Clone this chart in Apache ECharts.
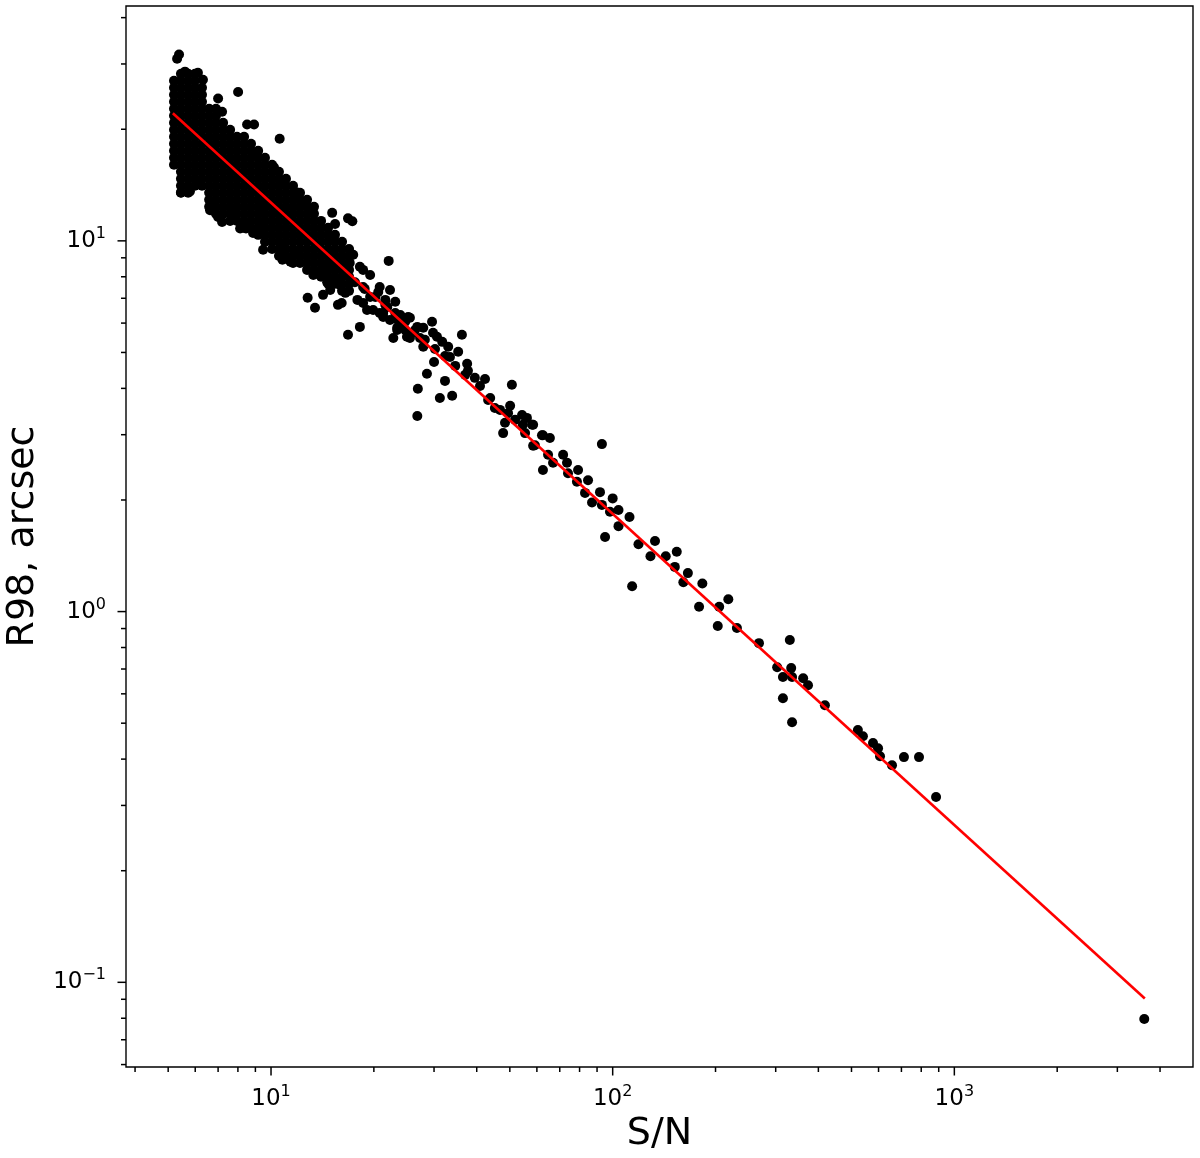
<!DOCTYPE html>
<html>
<head>
<meta charset="utf-8">
<script src="https://cdn.jsdelivr.net/npm/echarts@6.0.0/dist/echarts.min.js"></script>
<style>
  html, body { margin: 0; padding: 0; background: #fff; }
  #chart { width: 1200px; height: 1158px; }
</style>
</head>
<body>
<div id="chart"></div>
<script>
// ---------------- data ----------------
// axis limits (S/N and R98, arcsec)
const xLimits = [3.763, 4995];
const yLimits = [0.0591, 43.0];

// tick values
const xMajorTicks = [10, 100, 1000];
const xMinorTicks = [4, 5, 6, 7, 8, 9, 20, 30, 40, 50, 60, 70, 80, 90,
  200, 300, 400, 500, 600, 700, 800, 900, 2000, 3000, 4000];
const yMajorTicks = [0.1, 1, 10];
const yMinorTicks = [0.06, 0.07, 0.08, 0.09, 0.2, 0.3, 0.4, 0.5, 0.6, 0.7, 0.8, 0.9,
  2, 3, 4, 5, 6, 7, 8, 9, 20, 30, 40];

// dense cloud at low S/N: each entry = S/N value and the R98 values seen at it
const cloudColumns = [
  [5.20, [27.03, 25.88, 24.78, 23.72, 22.71, 21.75, 20.82, 19.93, 19.09, 18.27, 17.50, 16.75, 16.04]],
  [5.45, [28.23, 27.03, 25.88, 24.78, 23.72, 22.71, 21.75, 20.82, 19.93, 19.09, 18.27, 17.50, 16.75, 16.04, 15.36, 14.70, 14.08, 13.48]],
  [5.72, [28.23, 27.03, 25.88, 24.78, 23.72, 22.71, 21.75, 20.82, 19.93, 19.09, 18.27, 17.50, 16.75, 16.04, 15.36, 14.70, 14.08, 13.48]],
  [5.99, [28.23, 27.03, 25.88, 24.78, 23.72, 22.71, 21.75, 20.82, 19.93, 19.09, 18.27, 17.50, 16.75, 16.04, 15.36, 14.70, 14.08]],
  [6.28, [25.88, 24.78, 23.72, 22.71, 21.75, 20.82, 19.93, 19.09, 18.27, 17.50, 16.75, 16.04, 15.36, 14.70, 14.08]],
  [6.59, [22.71, 21.75, 20.82, 19.93, 19.09, 18.27, 17.50, 16.75, 16.04, 15.36, 14.70, 14.08, 13.48, 12.90, 12.35]],
  [6.90, [22.71, 21.75, 20.82, 19.93, 19.09, 18.27, 17.50, 16.75, 16.04, 15.36, 14.70, 14.08, 13.48, 12.90, 12.35, 11.83]],
  [7.24, [20.82, 19.93, 19.09, 18.27, 17.50, 16.75, 16.04, 15.36, 14.70, 14.08, 13.48, 12.90, 12.35, 11.83]],
  [7.59, [19.93, 19.09, 18.27, 17.50, 16.75, 16.04, 15.36, 14.70, 14.08, 13.48, 12.90, 12.35, 11.83, 11.32]],
  [7.95, [19.09, 18.27, 17.50, 16.75, 16.04, 15.36, 14.70, 14.08, 13.48, 12.90, 12.35, 11.83, 11.32]],
  [8.34, [19.09, 18.27, 17.50, 16.75, 16.04, 15.36, 14.70, 14.08, 13.48, 12.90, 12.35, 11.83, 11.32, 10.84]],
  [8.74, [18.27, 17.50, 16.75, 16.04, 15.36, 14.70, 14.08, 13.48, 12.90, 12.35, 11.83, 11.32, 10.84]],
  [9.17, [17.50, 16.75, 16.04, 15.36, 14.70, 14.08, 13.48, 12.90, 12.35, 11.83, 11.32, 10.84, 10.38]],
  [9.60, [16.75, 16.04, 15.36, 14.70, 14.08, 13.48, 12.90, 12.35, 11.83, 11.32, 10.84, 10.38, 9.94]],
  [10.07, [16.04, 15.36, 14.70, 14.08, 13.48, 12.90, 12.35, 11.83, 11.32, 10.84, 10.38, 9.94, 9.51]],
  [10.55, [15.36, 14.70, 14.08, 13.48, 12.90, 12.35, 11.83, 11.32, 10.84, 10.38, 9.94, 9.51, 9.11]],
  [11.06, [14.70, 14.08, 13.48, 12.90, 12.35, 11.83, 11.32, 10.84, 10.38, 9.94, 9.51, 9.11]],
  [11.60, [14.08, 13.48, 12.90, 12.35, 11.83, 11.32, 10.84, 10.38, 9.94, 9.51, 9.11, 8.72]],
  [12.16, [13.48, 12.90, 12.35, 11.83, 11.32, 10.84, 10.38, 9.94, 9.51, 9.11, 8.72]],
  [12.75, [12.90, 12.35, 11.83, 11.32, 10.84, 10.38, 9.94, 9.51, 9.11, 8.72, 8.35]],
  [13.36, [12.35, 11.83, 11.32, 10.84, 10.38, 9.94, 9.51, 9.11, 8.72, 8.35]],
  [14.01, [11.32, 10.84, 10.38, 9.94, 9.51, 9.11, 8.72, 8.35, 8.00]],
  [14.69, [10.84, 10.38, 9.94, 9.51, 9.11, 8.72, 8.35, 8.00, 7.66]],
  [15.39, [10.38, 9.94, 9.51, 9.11, 8.72, 8.35, 8.00, 7.66]],
  [16.14, [9.94, 9.51, 9.11, 8.72, 8.35, 8.00, 7.66, 7.33]],
  [16.92, [9.51, 9.11, 8.72, 8.35, 8.00, 7.66, 7.33]]
];

// edge / isolated sources around the dense cloud  [S/N, R98]
const cloudEdge = [
  [5.38, 31.8], [5.31, 31.0], [5.60, 28.6], [6.11, 28.4], [6.32, 27.2], [8.01, 25.2],
  [7.00, 24.2], [7.19, 22.3], [8.51, 20.6], [8.92, 20.6], [10.6, 18.85], [9.10, 17.4],
  [10.2, 15.8], [10.6, 14.6], [11.9, 13.5], [12.3, 12.7], [15.1, 11.9], [15.4, 11.1],
  [16.8, 11.5], [17.3, 11.3], [22.1, 8.83],
  [5.45, 13.5], [5.79, 13.6], [6.11, 14.3], [6.63, 12.1], [7.00, 11.6], [7.19, 11.25],
  [7.69, 11.9], [8.12, 10.8], [8.45, 10.8], [8.86, 10.5], [9.48, 9.46], [10.8, 9.46],
  [10.8, 8.89], [11.4, 8.78], [12.0, 9.28], [13.3, 8.09], [14.6, 8.35], [15.6, 7.70]
];

// band of sources at intermediate S/N  [S/N, R98]
const bandPoints = [
  [12.8, 7.02], [13.45, 6.60], [14.2, 7.15], [14.9, 7.37], [16.1, 6.80], [16.5, 7.24],
  [15.7, 6.72], [16.8, 5.58], [18.2, 5.86], [22.8, 5.47], [17.9, 6.93], [19.1, 6.51],
  [20.8, 6.39], [22.3, 6.12], [23.4, 5.75], [25.0, 5.51], [18.6, 7.51], [18.6, 6.80],
  [19.9, 6.51], [21.3, 6.39], [24.3, 5.86], [26.0, 5.65], [27.3, 5.47], [30.6, 5.51],
  [23.5, 6.12], [20.6, 7.28], [19.5, 7.06], [17.4, 9.17], [19.5, 8.09], [20.8, 7.51],
  [22.3, 7.37], [23.1, 6.85], [21.6, 6.93], [25.2, 6.23], [29.6, 6.05], [18.2, 8.51],
  [15.9, 7.61], [14.6, 7.73], [18.6, 8.35], [17.0, 8.72], [17.6, 7.73], [16.5, 8.09],
  [18.8, 7.42], [20.2, 7.06], [21.6, 6.72], [23.1, 6.39], [24.7, 6.05], [26.4, 5.75],
  [28.2, 5.41], [30.2, 5.11], [32.3, 4.89], [34.6, 4.60], [37.0, 4.35], [43.8, 3.77],
  [46.8, 3.50], [51.8, 3.29],
  [36.2, 5.58], [35.3, 5.02], [30.0, 4.71], [28.6, 4.38], [32.3, 4.19], [26.9, 3.99],
  [31.2, 3.77], [33.9, 3.82], [26.8, 3.37], [37.5, 4.66], [37.7, 4.46], [39.5, 4.27],
  [42.3, 4.24], [40.9, 4.06], [50.7, 4.09], [43.2, 3.72], [45.2, 3.54], [50.1, 3.59],
  [49.4, 3.43], [48.4, 3.23], [47.8, 3.03], [54.3, 3.39], [56.1, 3.33], [58.1, 3.19],
  [55.4, 3.03], [62.5, 2.99], [65.5, 2.94], [59.2, 2.81], [21.9, 6.63], [23.9, 6.31],
  [25.5, 6.20], [26.8, 5.86], [27.9, 5.83], [29.8, 5.65], [31.7, 5.34], [33.0, 5.18],
  [33.4, 4.86], [25.5, 5.47], [27.9, 5.18], [24.7, 5.75], [21.3, 6.23], [23.4, 5.83]
];

// high S/N sources  [S/N, R98]
const tailPoints = [
  [54.6, 3.19], [58.5, 3.19], [62.1, 2.99], [58.5, 2.80], [93.0, 2.83], [62.5, 2.41],
  [64.7, 2.65], [66.9, 2.52], [71.6, 2.65], [73.5, 2.52], [74.0, 2.36], [79.2, 2.41],
  [78.6, 2.24], [84.7, 2.26], [83.0, 2.09], [91.8, 2.10], [87.0, 1.97], [93.0, 1.94],
  [100, 2.02], [98.2, 1.86], [104, 1.88], [112, 1.80], [104, 1.70], [95.0, 1.59],
  [119, 1.52], [133, 1.55], [129, 1.41], [143, 1.41], [154, 1.45], [152, 1.32],
  [166, 1.27], [161, 1.20], [183, 1.19], [114, 1.17],
  [179, 1.03], [205, 1.03], [218, 1.08], [203, 0.914], [231, 0.903], [268, 0.822],
  [330, 0.838], [303, 0.708], [333, 0.704], [315, 0.666], [335, 0.666], [361, 0.661],
  [373, 0.633], [315, 0.584], [335, 0.503], [418, 0.559], [522, 0.479], [540, 0.461],
  [578, 0.442], [598, 0.428], [606, 0.407], [657, 0.385], [712, 0.405], [788, 0.405],
  [884, 0.316], [3597, 0.0796]
];

// fitted power-law line (end points)
const fitX = [5.16, 3610];
const fitY = [22.1, 0.0904];

// ---------------- chart ----------------
const FONT = 'DejaVu Sans';
const scatterData = [];
cloudColumns.forEach(([x, ys]) => ys.forEach(y => scatterData.push([x, y])));
cloudEdge.forEach(p => scatterData.push(p));
bandPoints.forEach(p => scatterData.push(p));
tailPoints.forEach(p => scatterData.push(p));
const fitData = fitX.map((x, i) => [x, fitY[i]]);

function powLabel(v) {
  const l = Math.log10(v);
  const e = Math.round(l);
  if (Math.abs(l - e) > 1e-6) return '';
  const ex = e < 0 ? '\u2212' + (-e) : String(e);
  return '{b|10}{s|' + ex + '}';
}
const labelRich = {
  b: { fontSize: 23, fontFamily: FONT, color: '#000', lineHeight: 30 },
  s: { fontSize: 16, fontFamily: FONT, color: '#000', lineHeight: 16, verticalAlign: 'top' }
};

function tickSeries(data, horizontal, len) {
  return {
    type: 'scatter',
    silent: true,
    clip: false,
    symbol: 'rect',
    symbolSize: horizontal ? [1.5, len] : [len, 1.5],
    symbolOffset: horizontal ? [0, len / 2] : [-len / 2, 0],
    itemStyle: { color: '#000', opacity: 1 },
    data: data,
    z: 5
  };
}

const chart = echarts.init(document.getElementById('chart'), null, { renderer: 'canvas' });
chart.setOption({
  backgroundColor: '#fff',
  animation: false,
  grid: {
    left: 126, right: 7, top: 6, bottom: 91,
    containLabel: false, outerBoundsMode: 'none',
    show: true, borderColor: '#000', borderWidth: 1.4, backgroundColor: 'transparent', z: 10
  },
  xAxis: {
    type: 'log', logBase: 10, min: xLimits[0], max: xLimits[1],
    splitLine: { show: false }, axisLine: { show: false }, axisTick: { show: false },
    minorTick: { show: false },
    axisLabel: { formatter: powLabel, rich: labelRich, margin: 17, showMinLabel: true, showMaxLabel: true },
    name: 'S/N', nameLocation: 'middle', nameGap: 47,
    nameTextStyle: { fontSize: 38, fontFamily: FONT, color: '#000' }
  },
  yAxis: {
    type: 'log', logBase: 10, min: yLimits[0], max: yLimits[1],
    splitLine: { show: false }, axisLine: { show: false }, axisTick: { show: false },
    minorTick: { show: false },
    axisLabel: { formatter: powLabel, rich: labelRich, margin: 20, showMinLabel: true, showMaxLabel: true },
    name: 'R98, arcsec', nameLocation: 'middle', nameGap: 66,
    nameTextStyle: { fontSize: 38, fontFamily: FONT, color: '#000' }
  },
  series: [
    {
      type: 'scatter', silent: true, symbol: 'circle', symbolSize: 10,
      itemStyle: { color: '#000', opacity: 1 }, data: scatterData, z: 2
    },
    {
      type: 'line', silent: true, symbol: 'none', data: fitData,
      lineStyle: { color: '#ff0000', width: 2.6 }, z: 3
    },
    tickSeries(xMajorTicks.map(v => [v, yLimits[0]]), true, 8.5),
    tickSeries(xMinorTicks.map(v => [v, yLimits[0]]), true, 5),
    tickSeries(yMajorTicks.map(v => [xLimits[0], v]), false, 8.5),
    tickSeries(yMinorTicks.map(v => [xLimits[0], v]), false, 5)
  ]
});
</script>
</body>
</html>
